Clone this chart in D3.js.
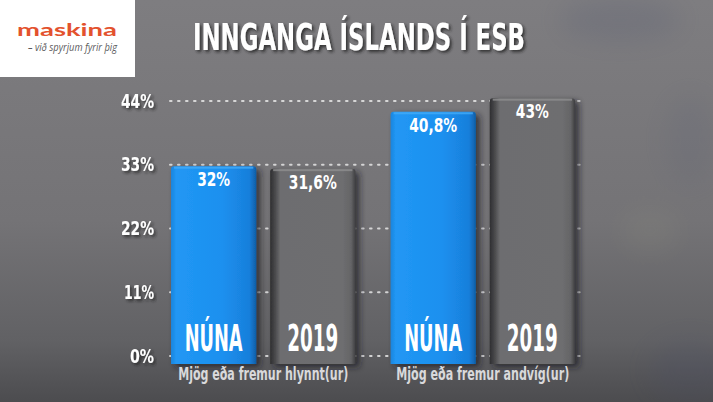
<!DOCTYPE html>
<html><head><meta charset="utf-8">
<script src="https://cdn.jsdelivr.net/npm/d3@7"></script>
<style>html,body{margin:0;padding:0;background:#6e6d70;overflow:hidden}</style>
</head><body>
<svg id="chart" width="713" height="402"></svg>
<script>
const title = "INNGANGA ÍSLANDS Í ESB";
const categories = ["Mjög eða fremur hlynnt(ur)", "Mjög eða fremur andvíg(ur)"];
const seriesNames = ["NÚNA", "2019"];
const valuesNuna = [32, 40.8];
const values2019 = [31.6, 43];
const valueLabelsNuna = ["32%", "40,8%"];
const valueLabels2019 = ["31,6%", "43%"];
const tickValues = [0, 11, 22, 33, 44];

const svg = d3.select("#chart");
const W = 713, H = 402;
const defs = svg.append("defs");

// background
const bg = defs.append("linearGradient").attr("id","bg").attr("x1",0).attr("y1",0).attr("x2",0).attr("y2",1);
bg.append("stop").attr("offset","0%").attr("stop-color","#7e7d80");
bg.append("stop").attr("offset","55%").attr("stop-color","#747376");
bg.append("stop").attr("offset","85%").attr("stop-color","#616164");
bg.append("stop").attr("offset","100%").attr("stop-color","#4c4c4f");
svg.append("rect").attr("width",W).attr("height",H).attr("fill","url(#bg)");
const blur = defs.append("filter").attr("id","blurBig").attr("x","-50%").attr("y","-50%").attr("width","200%").attr("height","200%");
blur.append("feGaussianBlur").attr("stdDeviation",12);
// faint flag texture
const tex = svg.append("g").attr("filter","url(#blurBig)").attr("opacity",0.18);
tex.append("ellipse").attr("cx",620).attr("cy",20).attr("rx",60).attr("ry",22).attr("fill","#4d5470");
tex.append("ellipse").attr("cx",690).attr("cy",140).attr("rx",25).attr("ry",45).attr("fill","#5d6275");
tex.append("ellipse").attr("cx",650).attr("cy",230).attr("rx",30).attr("ry",22).attr("fill","#8f8f80");
tex.append("ellipse").attr("cx",690).attr("cy",370).attr("rx",40).attr("ry",30).attr("fill","#444a66");

// logo box
svg.append("rect").attr("x",0).attr("y",0).attr("width",135).attr("height",77).attr("fill","#ffffff");
svg.append("text").attr("x",17).attr("y",36).attr("textLength",100).attr("lengthAdjust","spacingAndGlyphs")
  .attr("font-family","Lato, 'Noto Sans', sans-serif").attr("font-weight",700).attr("font-size",17)
  .attr("fill","#e3522e").text("maskina");
svg.append("text").attr("x",28).attr("y",51).attr("textLength",89).attr("lengthAdjust","spacingAndGlyphs")
  .attr("font-family","'Open Sans', 'Noto Sans', sans-serif").attr("font-style","italic").attr("font-size",10)
  .attr("fill","#5a5a5c").text("– við spyrjum fyrir þig");

// title
const sh = defs.append("filter").attr("id","tshadow").attr("x","-10%").attr("y","-30%").attr("width","120%").attr("height","160%");
sh.append("feDropShadow").attr("dx",2).attr("dy",2).attr("stdDeviation",1.5).attr("flood-color","#222").attr("flood-opacity",0.8);
const condensed = "'Liberation Sans Narrow', 'DejaVu Sans Condensed', 'Liberation Sans', sans-serif";
svg.append("text").attr("x",193).attr("y",50).attr("textLength",332).attr("lengthAdjust","spacingAndGlyphs")
  .attr("font-family",condensed).attr("font-weight",700).attr("font-size",37).attr("fill","#ffffff")
  .attr("filter","url(#tshadow)").text(title);

// scales
const y = d3.scaleLinear().domain([0,44]).range([355.5,100.5]);
const yBar = d3.scaleLinear().domain([0,44]).range([364,92]);
const x0 = d3.scaleBand().domain(categories).range([171,575]).paddingInner(0.16).paddingOuter(0);
const x1 = d3.scaleBand().domain(seriesNames).range([0,x0.bandwidth()]).paddingInner(0.14);

// gridlines
const grid = svg.append("g").attr("transform","translate(170,0)")
  .call(d3.axisLeft(y).tickValues(tickValues).tickSize(-410).tickFormat(""));
grid.select(".domain").remove();
grid.selectAll(".tick line").attr("stroke","#e6e6e6").attr("stroke-width",2)
  .attr("stroke-dasharray","1.6 6.4").attr("stroke-linecap","round").attr("opacity",0.85);

// axis labels
const tickWidth = {0:24, 11:30, 22:33, 33:33, 44:33};
const ax = svg.append("g").attr("transform","translate(154,0)")
  .call(d3.axisLeft(y).tickValues(tickValues).tickSize(0).tickPadding(0).tickFormat(d => d + "%"));
ax.select(".domain").remove();
ax.selectAll(".tick text").attr("font-family",condensed).attr("font-weight",700).attr("font-size",19)
  .attr("textLength", d => tickWidth[d]).attr("lengthAdjust","spacingAndGlyphs")
  .attr("fill","#ffffff").attr("dy","0.35em").attr("filter","url(#tshadow)");

// bar gradients
function hgrad(id, stops){
  const g = defs.append("linearGradient").attr("id",id).attr("x1",0).attr("y1",0).attr("x2",1).attr("y2",0);
  stops.forEach(s => g.append("stop").attr("offset",s[0]).attr("stop-color",s[1]));
}
hgrad("blueG", [["0%","#1a84dc"],["6%","#2197f4"],["60%","#1c90ef"],["92%","#187fdb"],["100%","#0f5ea6"]]);
hgrad("grayG", [["0%","#2f2f31"],["6%","#4a4a4c"],["12%","#6d6d6f"],["85%","#6e6e70"],["95%","#646466"],["100%","#3e3e40"]]);
const bs = defs.append("filter").attr("id","barShadow").attr("x","-20%").attr("y","-10%").attr("width","150%").attr("height","125%");
bs.append("feDropShadow").attr("dx",4).attr("dy",3).attr("stdDeviation",3).attr("flood-color","#1e1e20").attr("flood-opacity",0.7);

const rows = categories.map((c,i) => ({cat:c, bars:[
  {s:seriesNames[0], v:valuesNuna[i], lab:valueLabelsNuna[i], fill:"url(#blueG)", cap:"#43abf8"},
  {s:seriesNames[1], v:values2019[i], lab:valueLabels2019[i], fill:"url(#grayG)", cap:"#8e8e90"}
]}));

const groups = svg.append("g").selectAll("g").data(rows).join("g")
  .attr("transform", d => `translate(${x0(d.cat)},0)`);
const bars = groups.selectAll("g.bar").data(d => d.bars).join("g").attr("class","bar");
bars.append("path").attr("filter","url(#barShadow)").attr("fill", d => d.fill)
  .attr("d", d => {
    const xa = x1(d.s), w = x1.bandwidth(), top = yBar(d.v), bot = yBar(0), r = 3;
    return `M${xa},${bot}V${top+r}Q${xa},${top} ${xa+r},${top}H${xa+w-r}Q${xa+w},${top} ${xa+w},${top+r}V${bot}Z`;
  });
bars.append("rect").attr("x", d => x1(d.s)+3).attr("width", x1.bandwidth()-6)
  .attr("y", d => yBar(d.v)+0.5).attr("height",2).attr("fill", d => d.cap).attr("opacity",0.8);

// value labels
bars.append("text").attr("x", d => x1(d.s)+x1.bandwidth()/2).attr("y", d => yBar(d.v)+20)
  .attr("text-anchor","middle").attr("font-family",condensed).attr("font-weight",700).attr("font-size",20)
  .attr("textLength", d => d.lab.length > 3 ? 48 : 33).attr("lengthAdjust","spacingAndGlyphs")
  .attr("fill","#ffffff").text(d => d.lab);
// series labels
bars.append("text").attr("x", d => x1(d.s)+x1.bandwidth()/2).attr("y",351)
  .attr("text-anchor","middle").attr("font-family",condensed).attr("font-weight",700).attr("font-size",38)
  .attr("textLength", d => d.s === "NÚNA" ? 58 : 51).attr("lengthAdjust","spacingAndGlyphs")
  .attr("fill","#ffffff").text(d => d.s);

// category labels
groups.append("text").attr("x", x0.bandwidth()/2).attr("y",380).attr("text-anchor","middle")
  .attr("font-family",condensed).attr("font-weight",700).attr("font-size",17)
  .attr("textLength", (d,i) => i === 0 ? 170 : 173).attr("lengthAdjust","spacingAndGlyphs")
  .attr("fill","#d9d9db").text(d => d.cat);
</script>
</body></html>
